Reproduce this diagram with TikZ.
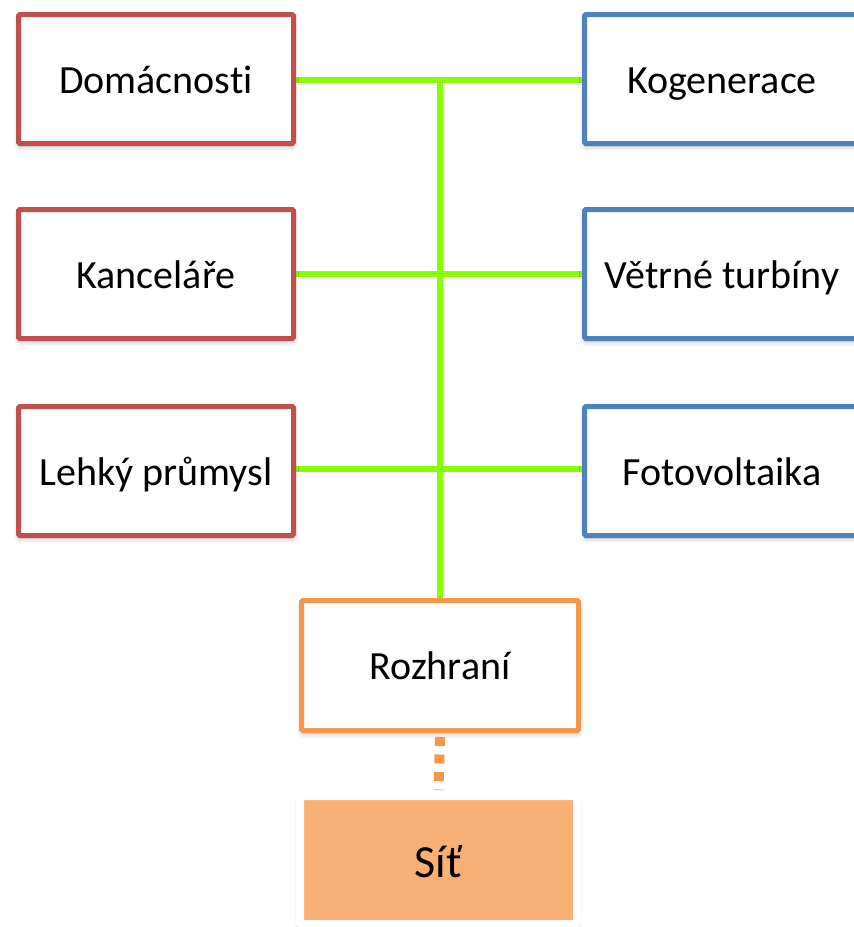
\documentclass[tikz,border=0pt]{standalone}
\usepackage{fontspec}
\setmainfont{Carlito}[Ligatures=NoCommon]
\usetikzlibrary{shadows.blur}
\definecolor{cred}{HTML}{C0504D}
\definecolor{cblue}{HTML}{4F81BD}
\definecolor{corange}{HTML}{F79646}
\definecolor{cgreen}{HTML}{88FF00}
\definecolor{cfill}{HTML}{F8B074}
\tikzset{
  box/.style={draw, line width=5pt, fill=white, rounded corners=1.5pt,
    minimum width=275pt, minimum height=129pt, inner sep=0pt,
    text height=33pt, text depth=5pt,
    font=\fontsize{40}{46}\selectfont,
    blur shadow={shadow xshift=0pt, shadow yshift=-3pt, shadow blur radius=5pt, shadow opacity=30}},
  cons/.style={box, draw=cred},
  prod/.style={box, draw=cblue},
  iface/.style={box, draw=corange, minimum width=277pt, minimum height=130pt},
  grid/.style={draw=white, fill=cfill, line width=8pt, rounded corners=1.5pt,
    minimum width=277pt, minimum height=128pt, inner sep=0pt,
    text height=40pt, text depth=6pt,
    font=\fontsize{46}{52}\selectfont,
    blur shadow={shadow xshift=0pt, shadow yshift=-3pt, shadow blur radius=5pt, shadow opacity=40}},
  bus/.style={draw=cgreen, line width=6pt},
  link/.style={draw=corange, line width=10pt, dash pattern=on 9pt off 8.5pt}
}
\begin{document}
\begin{tikzpicture}[x=1pt,y=-1pt]
\useasboundingbox (0,0) rectangle (854,927);
\begin{scope}
\clip (0,0) rectangle (854,927);
% connector end points on the bus
\coordinate (top) at (440,80);
\coordinate (r1) at (156,80);
\coordinate (r2) at (156,274);
\coordinate (r3) at (156,469);
\coordinate (q1) at (722,80);
\coordinate (q2) at (722,274);
\coordinate (q3) at (722,469);
\coordinate (ri) at (440,665.5);
\draw[bus] (r1) -- (q1);
\draw[bus] (r2) -- (q2);
\draw[bus] (r3) -- (q3);
\draw[bus] ([yshift=2pt]top) -- (ri);

\node[cons] (dom) at (156,79) {Domácnosti};
\node[cons] (kan) at (156,274) {Kanceláře};
\node[cons] (leh) at (156,471) {Lehký průmysl};
\node[prod] (kog) at (722,79) {Kogenerace};
\node[prod] (vet) at (722,274) {Větrné turbíny};
\node[prod] (fot) at (722,471) {Fotovoltaika};
\node[iface] (roz) at (440,665.5) {Rozhraní};
\node[grid] (sit) at (438.5,860) {Síť};
\draw[link] ([yshift=-4pt]roz.south) -- ([yshift=2pt]sit.north);
\end{scope}
\end{tikzpicture}
\end{document}
